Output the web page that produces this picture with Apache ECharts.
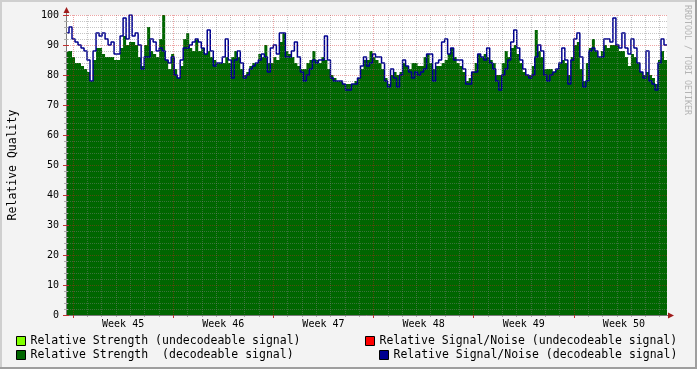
<!DOCTYPE html>
<html><head><meta charset="utf-8">
<script src="https://cdn.jsdelivr.net/npm/echarts@6/dist/echarts.min.js"></script>
<style>html,body{margin:0;padding:0;background:#f3f3f3}#c{width:697px;height:369px}</style>
</head><body><div id="c"></div>
<script>
// Relative strength (decodeable signal), one value per sample
const strength = [
 88,88,86,84,84,83,82,81,78,85,
 89,89,87,86,86,86,85,85,89,93,
 90,91,91,90,86,83,90,96,88,87,
 86,92,100,85,82,87,82,79,83,92,
 94,89,88,92,88,89,87,88,86,85,
 84,84,84,86,84,86,88,86,82,80,
 81,83,84,84,87,86,90,84,84,86,
 85,91,94,88,87,86,84,83,82,82,
 84,85,88,85,84,86,85,82,80,79,
 78,78,77,77,77,77,78,79,82,85,
 85,88,86,85,84,82,79,77,80,81,
 80,81,84,83,82,84,84,83,83,86,
 87,84,82,83,83,84,85,87,89,86,
 84,83,81,78,79,81,84,87,86,87,
 86,85,84,80,80,84,88,86,89,90,
 87,84,81,80,80,83,95,88,86,82,
 82,82,81,82,84,85,84,80,86,90,
 91,82,78,84,89,92,88,86,88,90,
 89,90,90,90,88,88,86,83,87,86,
 84,81,80,81,80,79,77,85,88,85];
// Relative signal/noise (decodeable signal)
const snr = [
 94,96,92,91,90,89,88,85,78,88,
 94,93,94,92,90,91,87,87,93,99,
 92,100,93,94,90,82,86,86,92,91,
 88,89,88,85,84,86,80,79,85,89,
 89,90,91,92,91,89,87,95,88,83,
 84,84,86,92,85,79,85,88,84,79,
 80,82,83,84,85,87,86,81,89,90,
 87,94,94,86,86,88,91,86,81,78,
 80,82,85,84,85,85,93,85,79,78,
 78,78,77,75,75,77,77,79,83,86,
 83,84,87,86,86,84,78,76,82,79,
 76,80,85,83,81,79,81,80,81,82,
 87,87,78,84,85,91,92,87,89,85,
 85,85,82,77,77,81,81,87,86,85,
 89,84,82,78,75,80,82,85,91,95,
 89,85,82,80,79,80,86,90,88,80,
 78,80,81,82,84,89,85,77,85,92,
 94,86,76,78,88,89,88,86,86,92,
 92,91,99,90,89,94,89,87,92,89,
 84,81,79,88,78,77,75,84,92,90];
const strengthUndecodeable = [];
const snrUndecodeable = [];

// x axis in sample units (200 samples over 6 weeks)
const weekStarts = [2.333, 35.667, 69, 102.333, 135.667, 169];
const weekLabelPos = [19, 52.333, 85.667, 119, 152.333, 185.667];
const weekLabels = ['Week 45','Week 46','Week 47','Week 48','Week 49','Week 50'];
const samplesPerDay = 4.7619;
const dayLines = [];
weekStarts.forEach(w => { for (let k = 1; k < 7; k++) dayLines.push(+(w + k * samplesPerDay).toFixed(3)); });

const names = [
  'Relative Strength (undecodeable signal)',
  'Relative Strength  (decodeable signal)',
  'Relative Signal/Noise (undecodeable signal)',
  'Relative Signal/Noise (decodeable signal)'
];
const colors = ['#80ff00', '#006600', '#ff0000', '#00008f'];

function toPairs(arr) {
  const p = arr.map((v, i) => [i, v]);
  if (arr.length) p.push([arr.length, arr[arr.length - 1]]);
  return p;
}

const MONO = '"DejaVu Sans Mono", monospace';
const minorGrid = { color: 'rgba(128,128,128,0.45)', width: 1, type: [1, 1] };
const majorGrid = { color: 'rgba(210,30,30,0.4)', width: 1, type: [1, 1] };

const legendCommon = {
  orient: 'horizontal', itemWidth: 9, itemHeight: 9, padding: 0, selectedMode: false, icon: 'rect',
  itemStyle: { borderColor: '#000', borderWidth: 1 },
  textStyle: { fontFamily: MONO, fontSize: 11.5, color: '#000' }
};

const chart = echarts.init(document.getElementById('c'), null, { renderer: 'canvas' });
chart.setOption({
  animation: false,
  backgroundColor: '#f3f3f3',
  grid: { left: 66, top: 15, width: 601, height: 300, show: true, backgroundColor: '#ffffff', borderWidth: 0,
    containLabel: false, outerBoundsMode: 'none' },
  xAxis: [{
    type: 'value', min: 0, max: 200, position: 'bottom', z: 5,
    axisLine: { show: true, lineStyle: { color: '#7a7a7a', width: 1 } },
    axisTick: { show: true, customValues: weekStarts, length: 3, lineStyle: { color: '#c03030' } },
    axisLabel: { show: true, customValues: weekLabelPos, margin: 4,
      formatter: v => { let b = 0, d = 1e9; weekLabelPos.forEach((p, i) => { if (Math.abs(p - v) < d) { d = Math.abs(p - v); b = i; } }); return weekLabels[b]; },
      fontFamily: MONO, fontSize: 10, color: '#000' },
    splitLine: { show: true, lineStyle: majorGrid }
  }, {
    type: 'value', min: 0, max: 200, position: 'bottom', z: 4,
    axisLine: { show: false },
    axisTick: { show: true, customValues: dayLines, length: 2, lineStyle: { color: '#aaaaaa' } },
    axisLabel: { show: false },
    splitLine: { show: true, lineStyle: minorGrid }
  }],
  yAxis: [{
    type: 'value', min: 0, max: 100, interval: 10, position: 'left', z: 5,
    name: 'Relative Quality', nameLocation: 'middle', nameGap: 46.5, nameRotate: 90,
    nameTextStyle: { fontFamily: MONO, fontSize: 11.5, color: '#000' },
    axisLine: { show: true, lineStyle: { color: '#7a7a7a', width: 1 } },
    axisTick: { show: true, length: 3, lineStyle: { color: '#c03030' } },
    minorTick: { show: true, splitNumber: 5, length: 2, lineStyle: { color: '#aaaaaa' } },
    axisLabel: { margin: 7, fontFamily: MONO, fontSize: 10, color: '#000' },
    splitLine: { show: true, lineStyle: majorGrid },
    minorSplitLine: { show: true, lineStyle: minorGrid }
  }, {
    type: 'value', min: 0, max: 100, interval: 10, position: 'right', z: 5,
    axisLine: { show: false },
    axisTick: { show: true, length: 3, lineStyle: { color: '#c03030' } },
    minorTick: { show: true, splitNumber: 5, length: 2, lineStyle: { color: '#aaaaaa' } },
    axisLabel: { show: false },
    splitLine: { show: false }
  }],
  legend: [
    Object.assign({ left: 16, top: 335, data: [names[0]] }, legendCommon),
    Object.assign({ left: 16, top: 349, data: [names[1]] }, legendCommon),
    Object.assign({ left: 365, top: 335, data: [names[2]] }, legendCommon),
    Object.assign({ left: 379, top: 349, data: [names[3]] }, legendCommon)
  ],
  series: [{
    name: names[0], type: 'line', step: 'end', data: toPairs(strengthUndecodeable), symbol: 'none',
    itemStyle: { color: colors[0] }, lineStyle: { width: 0, color: colors[0] }, areaStyle: { color: colors[0], opacity: 1 }, z: 2
  }, {
    name: names[1], type: 'line', step: 'end', data: toPairs(strength), symbol: 'none',
    itemStyle: { color: colors[1] }, lineStyle: { width: 0, color: colors[1] }, areaStyle: { color: colors[1], opacity: 1 }, z: 2
  }, {
    name: names[2], type: 'line', step: 'end', data: toPairs(snrUndecodeable), symbol: 'none',
    itemStyle: { color: colors[2] }, lineStyle: { width: 1.5, color: colors[2] }, z: 3
  }, {
    name: names[3], type: 'line', step: 'end', data: toPairs(snr), symbol: 'none',
    itemStyle: { color: colors[3] }, lineStyle: { width: 1.5, color: colors[3] }, z: 3
  }],
  graphic: [
    { type: 'rect', shape: { x: 0, y: 0, width: 697, height: 2 }, style: { fill: '#cfcfcf' }, silent: true },
    { type: 'rect', shape: { x: 0, y: 0, width: 2, height: 369 }, style: { fill: '#cfcfcf' }, silent: true },
    { type: 'rect', shape: { x: 0, y: 367, width: 697, height: 2 }, style: { fill: '#9e9e9e' }, silent: true },
    { type: 'rect', shape: { x: 695, y: 0, width: 2, height: 369 }, style: { fill: '#9e9e9e' }, silent: true },
    { type: 'line', shape: { x1: 66.5, y1: 15, x2: 66.5, y2: 11 }, style: { stroke: '#7a7a7a', lineWidth: 1 }, silent: true },
    { type: 'polygon', shape: { points: [[63.5, 13], [69.5, 13], [66.5, 7]] }, style: { fill: '#a01c1c' }, silent: true },
    { type: 'line', shape: { x1: 667, y1: 315.5, x2: 670, y2: 315.5 }, style: { stroke: '#7a7a7a', lineWidth: 1 }, silent: true },
    { type: 'polygon', shape: { points: [[668, 312.5], [668, 318.5], [674, 315.5]] }, style: { fill: '#a01c1c' }, silent: true },
    { type: 'text', x: 687, y: 60, rotation: -Math.PI / 2, silent: true,
      style: { text: 'RRDTOOL / TOBI OETIKER', font: '8.3px "DejaVu Sans Mono"', fill: '#b4b4b4',
        align: 'center', verticalAlign: 'middle', textAlign: 'center', textVerticalAlign: 'middle' } }
  ]
});
</script>
</body></html>
